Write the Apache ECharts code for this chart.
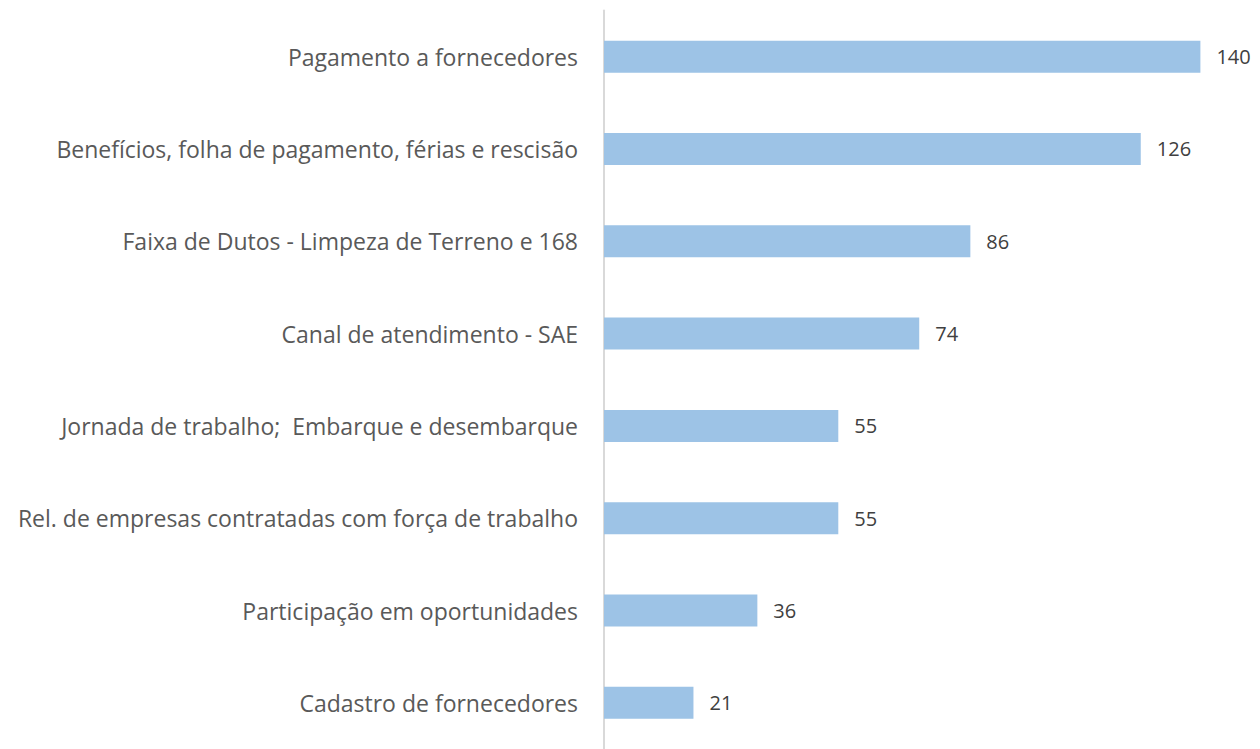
<!DOCTYPE html>
<html>
<head>
<meta charset="utf-8">
<script src="https://cdn.jsdelivr.net/npm/echarts@6/dist/echarts.min.js"></script>
<style>
  html, body { margin: 0; padding: 0; background: #fff; }
  #chart { width: 1260px; height: 749px; }
</style>
</head>
<body>
<div id="chart"></div>
<script>
// categories listed bottom-to-top (category axis starts at bottom)
const categories = [
  'Cadastro de fornecedores',
  'Participação em oportunidades',
  'Rel. de empresas contratadas com força de trabalho',
  'Jornada de trabalho;  Embarque e desembarque',
  'Canal de atendimento - SAE',
  'Faixa de Dutos - Limpeza de Terreno e 168',
  'Benefícios, folha de pagamento, férias e rescisão',
  'Pagamento a fornecedores'
];
const values = [21, 36, 55, 55, 74, 86, 126, 140];

const font = '"Open Sans", sans-serif';
const chart = echarts.init(document.getElementById('chart'), null, { renderer: 'svg' });
chart.setOption({
  backgroundColor: '#ffffff',
  animation: false,
  grid: { left: 604, right: 17, top: 10.5, bottom: -5.5, containLabel: false },
  xAxis: {
    type: 'value', min: 0, max: 150, show: false
  },
  yAxis: {
    type: 'category',
    data: categories,
    axisTick: { show: false },
    axisLine: { show: true, lineStyle: { color: '#D9D9D9', width: 2 } },
    axisLabel: { color: '#595959', fontSize: 23, fontFamily: font, margin: 26 },
    splitLine: { show: false }
  },
  series: [{
    type: 'bar',
    data: values,
    barWidth: 32,
    itemStyle: { color: '#9DC3E6' },
    label: {
      show: true, position: 'right', distance: 16,
      color: '#404040', fontSize: 20, fontFamily: font
    }
  }]
});
</script>
</body>
</html>
